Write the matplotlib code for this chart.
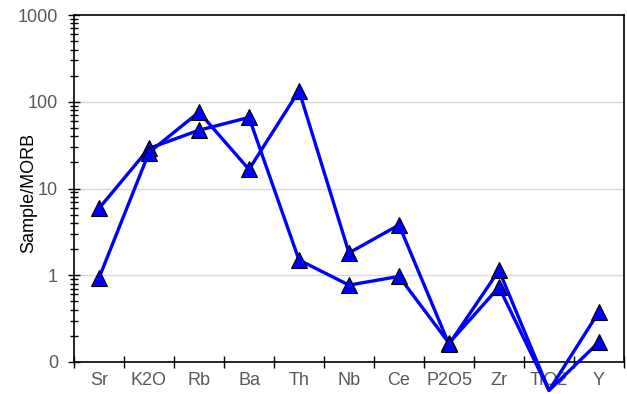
import matplotlib
matplotlib.use('Agg')
import matplotlib.pyplot as plt
from matplotlib.ticker import FixedLocator, LogLocator, NullFormatter

# categories and values
elements = ['Sr', 'K2O', 'Rb', 'Ba', 'Th', 'Nb', 'Ce', 'P2O5', 'Zr', 'TiO2', 'Y']
sample_1 = [5.9, 29.0, 47.0, 66.0, 1.5, 0.77, 0.97, 0.165, 0.73, 0.047, 0.17]
sample_2 = [0.93, 26.0, 76.0, 16.6, 134.0, 1.81, 3.8, 0.16, 1.14, 0.047, 0.38]
ytick_vals = [0.1, 1, 10, 100, 1000]
ytick_text = ['0', '1', '10', '100', '1000']

plt.rcParams['font.family'] = ['Liberation Sans', 'DejaVu Sans']

fig = plt.figure(figsize=(6.27, 3.94), dpi=100)
ax = fig.add_axes([74 / 627, 32 / 394, 550 / 627, 347 / 394])

x = list(range(len(elements)))
for series in (sample_1, sample_2):
  # lines run past the plot area, markers stay inside it
  ax.plot(x, series, color='#0000ff', linewidth=2.4, clip_on=False, zorder=5)
  ax.plot(x, series, linestyle='none', marker='^', markersize=11,
          markerfacecolor='#0000ff', markeredgecolor='black', markeredgewidth=0.8,
          clip_on=True, zorder=6)

ax.set_yscale('log')
ax.set_ylim(0.1, 1000)
ax.set_xlim(-0.5, len(elements) - 0.5)

ax.set_yticks(ytick_vals)
ax.set_yticklabels(ytick_text)
ax.yaxis.set_minor_locator(LogLocator(base=10, subs=range(2, 10)))
ax.yaxis.set_minor_formatter(NullFormatter())

# category labels in the middle, ticks on the boundaries
ax.set_xticks(x)
ax.set_xticklabels(elements)
ax.xaxis.set_minor_locator(FixedLocator([i - 0.5 for i in range(len(elements) + 1)]))
ax.tick_params(axis='x', which='major', length=0, pad=7, labelsize=13, labelcolor='#595959')
ax.tick_params(axis='x', which='minor', direction='inout', length=8, width=1)
ax.tick_params(axis='y', which='major', direction='inout', length=9, width=1,
               labelsize=13, labelcolor='#595959', pad=7)
ax.tick_params(axis='y', which='minor', direction='inout', length=6, width=1)

for val in [1, 10, 100]:
  ax.axhline(val, color='#d9d9d9', linewidth=1, zorder=0)

for side in ['left', 'bottom', 'right', 'top']:
  ax.spines[side].set_color('black')
  ax.spines[side].set_linewidth(1.2)

ax.set_ylabel('Sample/MORB', fontsize=13)
ax.yaxis.set_label_coords(-45 / 550, (362 - 193) / 347)
ax.yaxis.label.set_verticalalignment('center')

plt.savefig('out.png', dpi=100)
